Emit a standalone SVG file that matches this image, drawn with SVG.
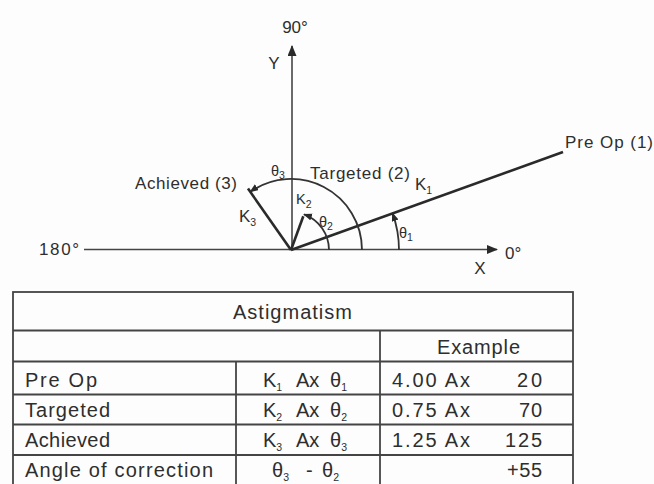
<svg xmlns="http://www.w3.org/2000/svg" width="654" height="484" viewBox="0 0 654 484">
<defs>
<style>
text{font-family:"Liberation Sans",Arial,sans-serif;fill:#2e2e2e}
.lbl{font-size:17px}
.sm{font-size:14.5px}
.tb{font-size:20px}
.sub{font-size:10.5px}
.axis{stroke:#454545;stroke-width:1.6;fill:none}
.vec{stroke:#2a2a2a;stroke-width:2.6;fill:none}
.arc{stroke:#333;stroke-width:1.8;fill:none}
.grid{stroke:#444;stroke-width:1.8;fill:none}
</style>
<marker id="ah" markerUnits="userSpaceOnUse" markerWidth="12" markerHeight="10" refX="10" refY="4.5" orient="auto">
<path d="M0,0 L11,4.5 L0,9 z" fill="#2a2a2a"/>
</marker>
<marker id="ahs" markerUnits="userSpaceOnUse" markerWidth="10" markerHeight="8" refX="8" refY="3.5" orient="auto">
<path d="M0,0 L9,3.5 L0,7 z" fill="#2a2a2a"/>
</marker>
</defs>
<rect width="654" height="484" fill="#fdfdfd"/>

<g id="connectors">
<line class="axis" x1="84" y1="249.5" x2="497" y2="249.5" marker-end="url(#ah)"/>
<line class="axis" x1="292" y1="250" x2="292" y2="46" marker-end="url(#ah)"/>
<line class="vec" x1="291" y1="250" x2="563" y2="152"/>
<line class="vec" x1="291" y1="250" x2="248" y2="188.6"/>
<line class="vec" x1="291" y1="250" x2="303.3" y2="216.2"/>
<path class="arc" d="M362,250 A71,71 0 0 0 250.3,191.8" marker-end="url(#ahs)"/>
<path class="arc" d="M329,250 A38,38 0 0 0 304,214.3" marker-end="url(#ahs)"/>
<path class="arc" d="M399,250 A108,108 0 0 0 392.5,213.1" marker-end="url(#ahs)"/>
</g>

<g id="axis-labels">
<text class="lbl" x="295" y="33" text-anchor="middle">90°</text>
<text class="lbl" x="274" y="69" text-anchor="middle">Y</text>
<text class="lbl" x="39" y="255" textLength="40" lengthAdjust="spacing">180°</text>
<text class="lbl" x="505" y="259">0°</text>
<text class="lbl" x="480" y="274" text-anchor="middle">X</text>
</g>

<g id="node-preop">
<text class="lbl" x="565" y="148" textLength="88" lengthAdjust="spacing">Pre Op (1)</text>
<text class="lbl" x="415" y="190">K<tspan class="sub" dy="4">1</tspan></text>
</g>
<g id="node-targeted">
<text class="lbl" x="310" y="179" textLength="100" lengthAdjust="spacing">Targeted (2)</text>
<text class="sm" x="296" y="204">K<tspan class="sub" dy="4">2</tspan></text>
</g>
<g id="node-achieved">
<text class="lbl" x="135" y="189" textLength="102" lengthAdjust="spacing">Achieved (3)</text>
<text class="lbl" x="239" y="222">K<tspan class="sub" dy="4">3</tspan></text>
</g>
<g id="angle-labels">
<text class="sm" x="271" y="176">θ<tspan class="sub" dy="3">3</tspan></text>
<text class="sm" x="319" y="227">θ<tspan class="sub" dy="3">2</tspan></text>
<text class="sm" x="399" y="238">θ<tspan class="sub" dy="3">1</tspan></text>
</g>

<g id="table">
<rect class="grid" x="13" y="292" width="560" height="200"/>
<line class="grid" x1="13" y1="330.5" x2="573" y2="330.5"/>
<line class="grid" x1="13" y1="361.5" x2="573" y2="361.5"/>
<line class="grid" x1="13" y1="394.5" x2="573" y2="394.5"/>
<line class="grid" x1="13" y1="424.5" x2="573" y2="424.5"/>
<line class="grid" x1="13" y1="455" x2="573" y2="455"/>
<line class="grid" x1="380" y1="330.5" x2="380" y2="492"/>
<line class="grid" x1="236" y1="361.5" x2="236" y2="492"/>

<text class="tb" x="233" y="319" textLength="119" lengthAdjust="spacing">Astigmatism</text>
<text class="tb" x="437" y="354" textLength="83" lengthAdjust="spacing">Example</text>

<text class="tb" x="25" y="387" textLength="72" lengthAdjust="spacing">Pre Op</text>
<text class="tb" x="25" y="417" textLength="85" lengthAdjust="spacing">Targeted</text>
<text class="tb" x="25" y="447" textLength="85" lengthAdjust="spacing">Achieved</text>
<text class="tb" x="25" y="477" textLength="188" lengthAdjust="spacing">Angle of correction</text>

<text class="tb" y="387"><tspan x="263">K</tspan><tspan class="sub" dy="4">1</tspan><tspan x="296" dy="-4">Ax</tspan><tspan x="330">θ</tspan><tspan class="sub" dy="4">1</tspan></text>
<text class="tb" y="417"><tspan x="263">K</tspan><tspan class="sub" dy="4">2</tspan><tspan x="296" dy="-4">Ax</tspan><tspan x="330">θ</tspan><tspan class="sub" dy="4">2</tspan></text>
<text class="tb" y="447"><tspan x="263">K</tspan><tspan class="sub" dy="4">3</tspan><tspan x="296" dy="-4">Ax</tspan><tspan x="330">θ</tspan><tspan class="sub" dy="4">3</tspan></text>
<text class="tb" y="477"><tspan x="272">θ</tspan><tspan class="sub" dy="4">3</tspan><tspan x="306" dy="-4">-</tspan><tspan x="322">θ</tspan><tspan class="sub" dy="4">2</tspan></text>

<text class="tb" x="392" y="387" textLength="78" lengthAdjust="spacing">4.00 Ax</text>
<text class="tb" x="392" y="417" textLength="78" lengthAdjust="spacing">0.75 Ax</text>
<text class="tb" x="392" y="447" textLength="78" lengthAdjust="spacing">1.25 Ax</text>
<text class="tb" x="542" y="387" text-anchor="end" textLength="25" lengthAdjust="spacing">20</text>
<text class="tb" x="542" y="417" text-anchor="end" textLength="23" lengthAdjust="spacing">70</text>
<text class="tb" x="542" y="447" text-anchor="end" textLength="37" lengthAdjust="spacing">125</text>
<text class="tb" x="542" y="477" text-anchor="end" textLength="35" lengthAdjust="spacing">+55</text>
</g>
</svg>
